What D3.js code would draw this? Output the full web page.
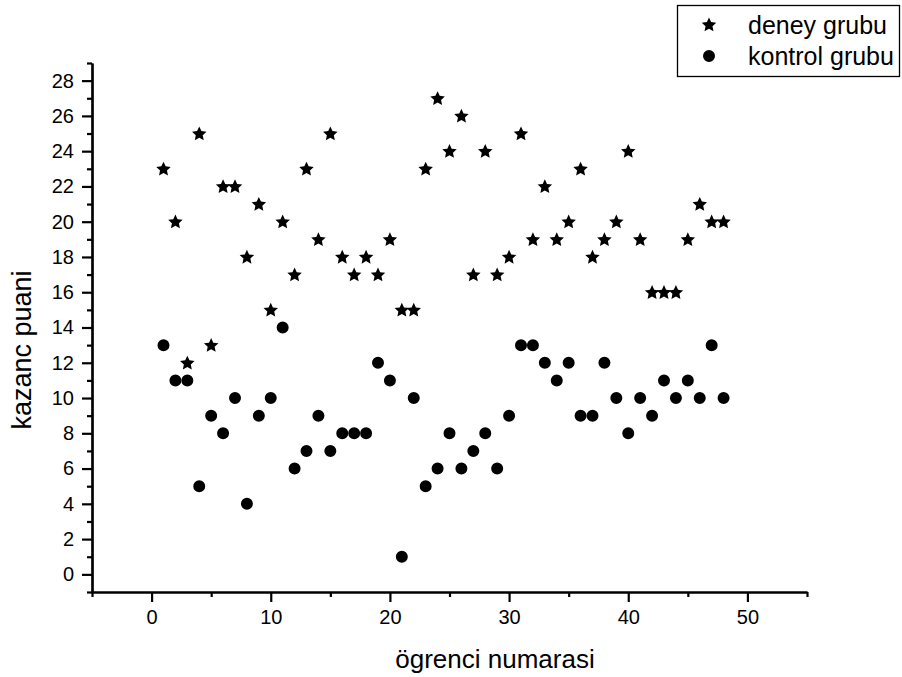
<!DOCTYPE html>
<html>
<head>
<meta charset="utf-8">
<script src="https://cdn.jsdelivr.net/npm/d3@7"></script>
<style>
  body { margin: 0; background: #fff; }
  svg { display: block; font-family: 'Liberation Sans', Arial, sans-serif; }
</style>
</head>
<body>
<div id="chart"></div>
<script>
// ogrenci numarasi 1..48
const students = d3.range(1, 49)
const deneyScores = [23, 20, 12, 25, 13, 22, 22, 18, 21, 15, 20, 17, 23, 19, 25, 18,
  17, 18, 17, 19, 15, 15, 23, 27, 24, 26, 17, 24, 17, 18, 25, 19,
  22, 19, 20, 23, 18, 19, 20, 24, 19, 16, 16, 16, 19, 21, 20, 20]
const kontrolScores = [13, 11, 11, 5, 9, 8, 10, 4, 9, 10, 14, 6, 7, 9, 7, 8,
  8, 8, 12, 11, 1, 10, 5, 6, 8, 6, 7, 8, 6, 9, 13, 13,
  12, 11, 12, 9, 9, 12, 10, 8, 10, 9, 11, 10, 11, 10, 13, 10]
const xTicks = [0, 10, 20, 30, 40, 50]
const xMinorTicks = [-5, 5, 15, 25, 35, 45, 55]
const yTicks = d3.range(0, 29, 2)
const yMinorTicks = d3.range(-1, 30, 2)
const seriesNames = ['deney grubu', 'kontrol grubu']

const dimensions = { width: 902, height: 677 }

const svg = d3.select('#chart')
  .append('svg')
  .attr('width', dimensions.width)
  .attr('height', dimensions.height)

const xScale = d3.scaleLinear().domain([-5, 55]).range([92, 807])
const yScale = d3.scaleLinear().domain([-1, 29]).range([592, 63])

// fatter five point star than d3.symbolStar
const fatStar = {
  draw(context, size) {
    const R = Math.sqrt(size)
    const r = R * 0.48
    for (let i = 0; i < 10; i++) {
      const rad = i % 2 === 0 ? R : r
      const a = -Math.PI / 2 + i * Math.PI / 5
      const px = rad * Math.cos(a), py = rad * Math.sin(a)
      if (i === 0) context.moveTo(px, py)
      else context.lineTo(px, py)
    }
    context.closePath()
  }
}
const starPath = d3.symbol().type(fatStar).size(58)()
const circlePath = d3.symbol().type(d3.symbolCircle).size(113)()

// axes: major ticks with labels, minor ticks in between
const xAxis = d3.axisBottom(xScale)
  .tickValues(xTicks)
  .tickSize(10)
  .tickSizeOuter(0)
  .tickPadding(8)
const xMinor = d3.axisBottom(xScale)
  .tickValues(xMinorTicks)
  .tickSize(5)
  .tickSizeOuter(0)
  .tickFormat('')

const yAxis = d3.axisLeft(yScale)
  .tickValues(yTicks)
  .tickSize(10)
  .tickSizeOuter(0)
  .tickPadding(8)
const yMinor = d3.axisLeft(yScale)
  .tickValues(yMinorTicks)
  .tickSize(5)
  .tickSizeOuter(0)
  .tickFormat('')

function styleAxis(g) {
  g.select('.domain').attr('stroke', '#000').attr('stroke-width', 2.2)
  g.selectAll('.tick line').attr('stroke', '#000').attr('stroke-width', 2.2)
  g.selectAll('.tick text')
    .attr('fill', '#000')
    .style('font-size', '20px')
    .style('font-family', "'Liberation Sans', Arial, sans-serif")
}

svg.append('g').attr('transform', 'translate(0,592)').call(xMinor).call(styleAxis)
svg.append('g').attr('transform', 'translate(0,592)').call(xAxis).call(styleAxis)
svg.append('g').attr('transform', 'translate(92,0)').call(yMinor).call(styleAxis)
svg.append('g').attr('transform', 'translate(92,0)').call(yAxis).call(styleAxis)

svg.append('text')
  .attr('x', 495)
  .attr('y', 668)
  .attr('text-anchor', 'middle')
  .style('font-size', '26px')
  .text('ögrenci numarasi')

svg.append('text')
  .attr('transform', 'translate(31, 350) rotate(-90)')
  .attr('text-anchor', 'middle')
  .style('font-size', '27px')
  .text('kazanc puani')

// data
svg.append('g')
  .selectAll('path')
  .data(students)
  .enter()
  .append('path')
  .attr('d', circlePath)
  .attr('transform', (d, i) => `translate(${xScale(d)},${yScale(kontrolScores[i])})`)
  .attr('fill', '#000')

svg.append('g')
  .selectAll('path')
  .data(students)
  .enter()
  .append('path')
  .attr('d', starPath)
  .attr('transform', (d, i) => `translate(${xScale(d)},${yScale(deneyScores[i]) + 0.5})`)
  .attr('fill', '#000')

// legend
const legend = svg.append('g')
legend.append('rect')
  .attr('x', 677.5).attr('y', 5.5)
  .attr('width', 222).attr('height', 71)
  .attr('fill', '#fff')
  .attr('stroke', '#000')
  .attr('stroke-width', 1.3)

seriesNames.forEach((name, i) => {
  const cy = 25 + i * 31
  legend.append('path')
    .attr('d', i === 0 ? starPath : circlePath)
    .attr('transform', `translate(709,${cy})`)
    .attr('fill', '#000')
  legend.append('text')
    .attr('x', 748)
    .attr('y', cy + 9)
    .style('font-size', '25px')
    .text(name)
})
</script>
</body>
</html>
